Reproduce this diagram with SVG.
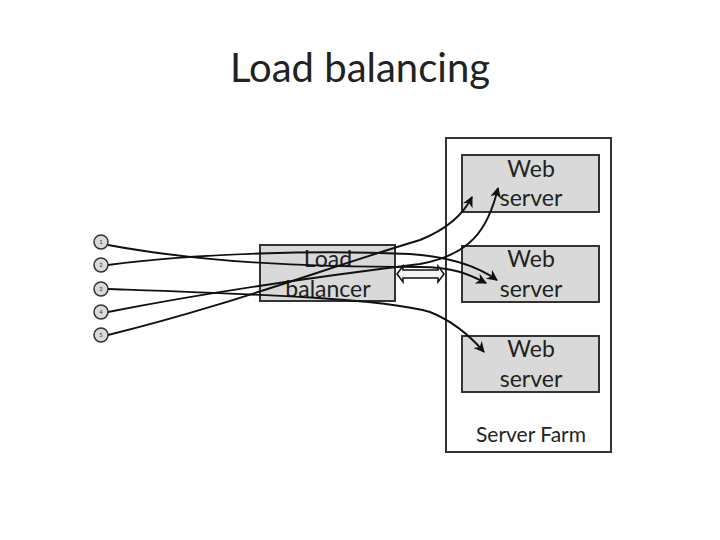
<svg xmlns="http://www.w3.org/2000/svg" width="720" height="540" viewBox="0 0 720 540">
<style>
text{font-family:Lato,"Open Sans","Liberation Sans",sans-serif;fill:#222}
.box{fill:#d9d9d9;stroke:#333;stroke-width:2}
.lbl{font-size:23px;text-anchor:middle}
.c{fill:#d9d9d9;stroke:#333;stroke-width:1.5}
.n{font-size:5px;text-anchor:middle}
.e{fill:none;stroke:#111;stroke-width:1.9;marker-end:url(#ah)}
</style>
<defs><marker id="ah" viewBox="0 0 10 10" refX="9" refY="5" markerWidth="12" markerHeight="11" markerUnits="userSpaceOnUse" orient="auto"><path d="M0,0L10,5L0,10L3,5z" fill="#111"/></marker></defs>
<rect width="720" height="540" fill="#fff"/>
<text x="360" y="82" font-size="40" text-anchor="middle">Load balancing</text>
<g id="farm"><rect x="446" y="138" width="165" height="314" fill="#fff" stroke="#333" stroke-width="2"/><text x="531" y="442" font-size="21" text-anchor="middle">Server Farm</text></g>
<g id="ws1"><rect class="box" x="462" y="155" width="137" height="57"/><text class="lbl" x="531" y="177">Web</text><text class="lbl" x="531" y="206">server</text></g>
<g id="ws2"><rect class="box" x="462" y="246" width="137" height="56"/><text class="lbl" x="531" y="267">Web</text><text class="lbl" x="531" y="297">server</text></g>
<g id="ws3"><rect class="box" x="462" y="336" width="137" height="56"/><text class="lbl" x="531" y="357">Web</text><text class="lbl" x="531" y="387">server</text></g>
<g id="lb"><rect class="box" x="260" y="245" width="135" height="56"/><text class="lbl" x="328" y="267">Load</text><text class="lbl" x="328" y="297">balancer</text></g>
<g id="clients">
<circle class="c" cx="101" cy="242" r="7"/><text class="n" x="101" y="244">1</text>
<circle class="c" cx="101" cy="265" r="7"/><text class="n" x="101" y="267">2</text>
<circle class="c" cx="101" cy="289" r="7"/><text class="n" x="101" y="291">3</text>
<circle class="c" cx="101" cy="312" r="7"/><text class="n" x="101" y="314">4</text>
<circle class="c" cx="101" cy="335" r="7"/><text class="n" x="101" y="337">5</text>
</g>
<g id="connectors">
<path class="e" d="M108,245C200,262 300,267 420,267C455,267 470,275 486,283"/>
<path class="e" d="M108,265C200,253 320,250 410,254C455,257 480,268 497,280"/>
<path class="e" d="M108,289C250,294 380,298 430,312C455,322 472,338 484,352"/>
<path class="e" d="M108,312C220,290 330,275 420,264C470,255 488,230 498,188"/>
<path class="e" d="M108,335C230,305 320,270 420,240C445,230 463,215 472,197"/>
<path d="M397,274L403,266L403,270L438,270L438,266L444,274L438,282L438,278L403,278L403,282Z" fill="#f4f4f4" stroke="#111" stroke-width="1.5"/>
</g>
</svg>
